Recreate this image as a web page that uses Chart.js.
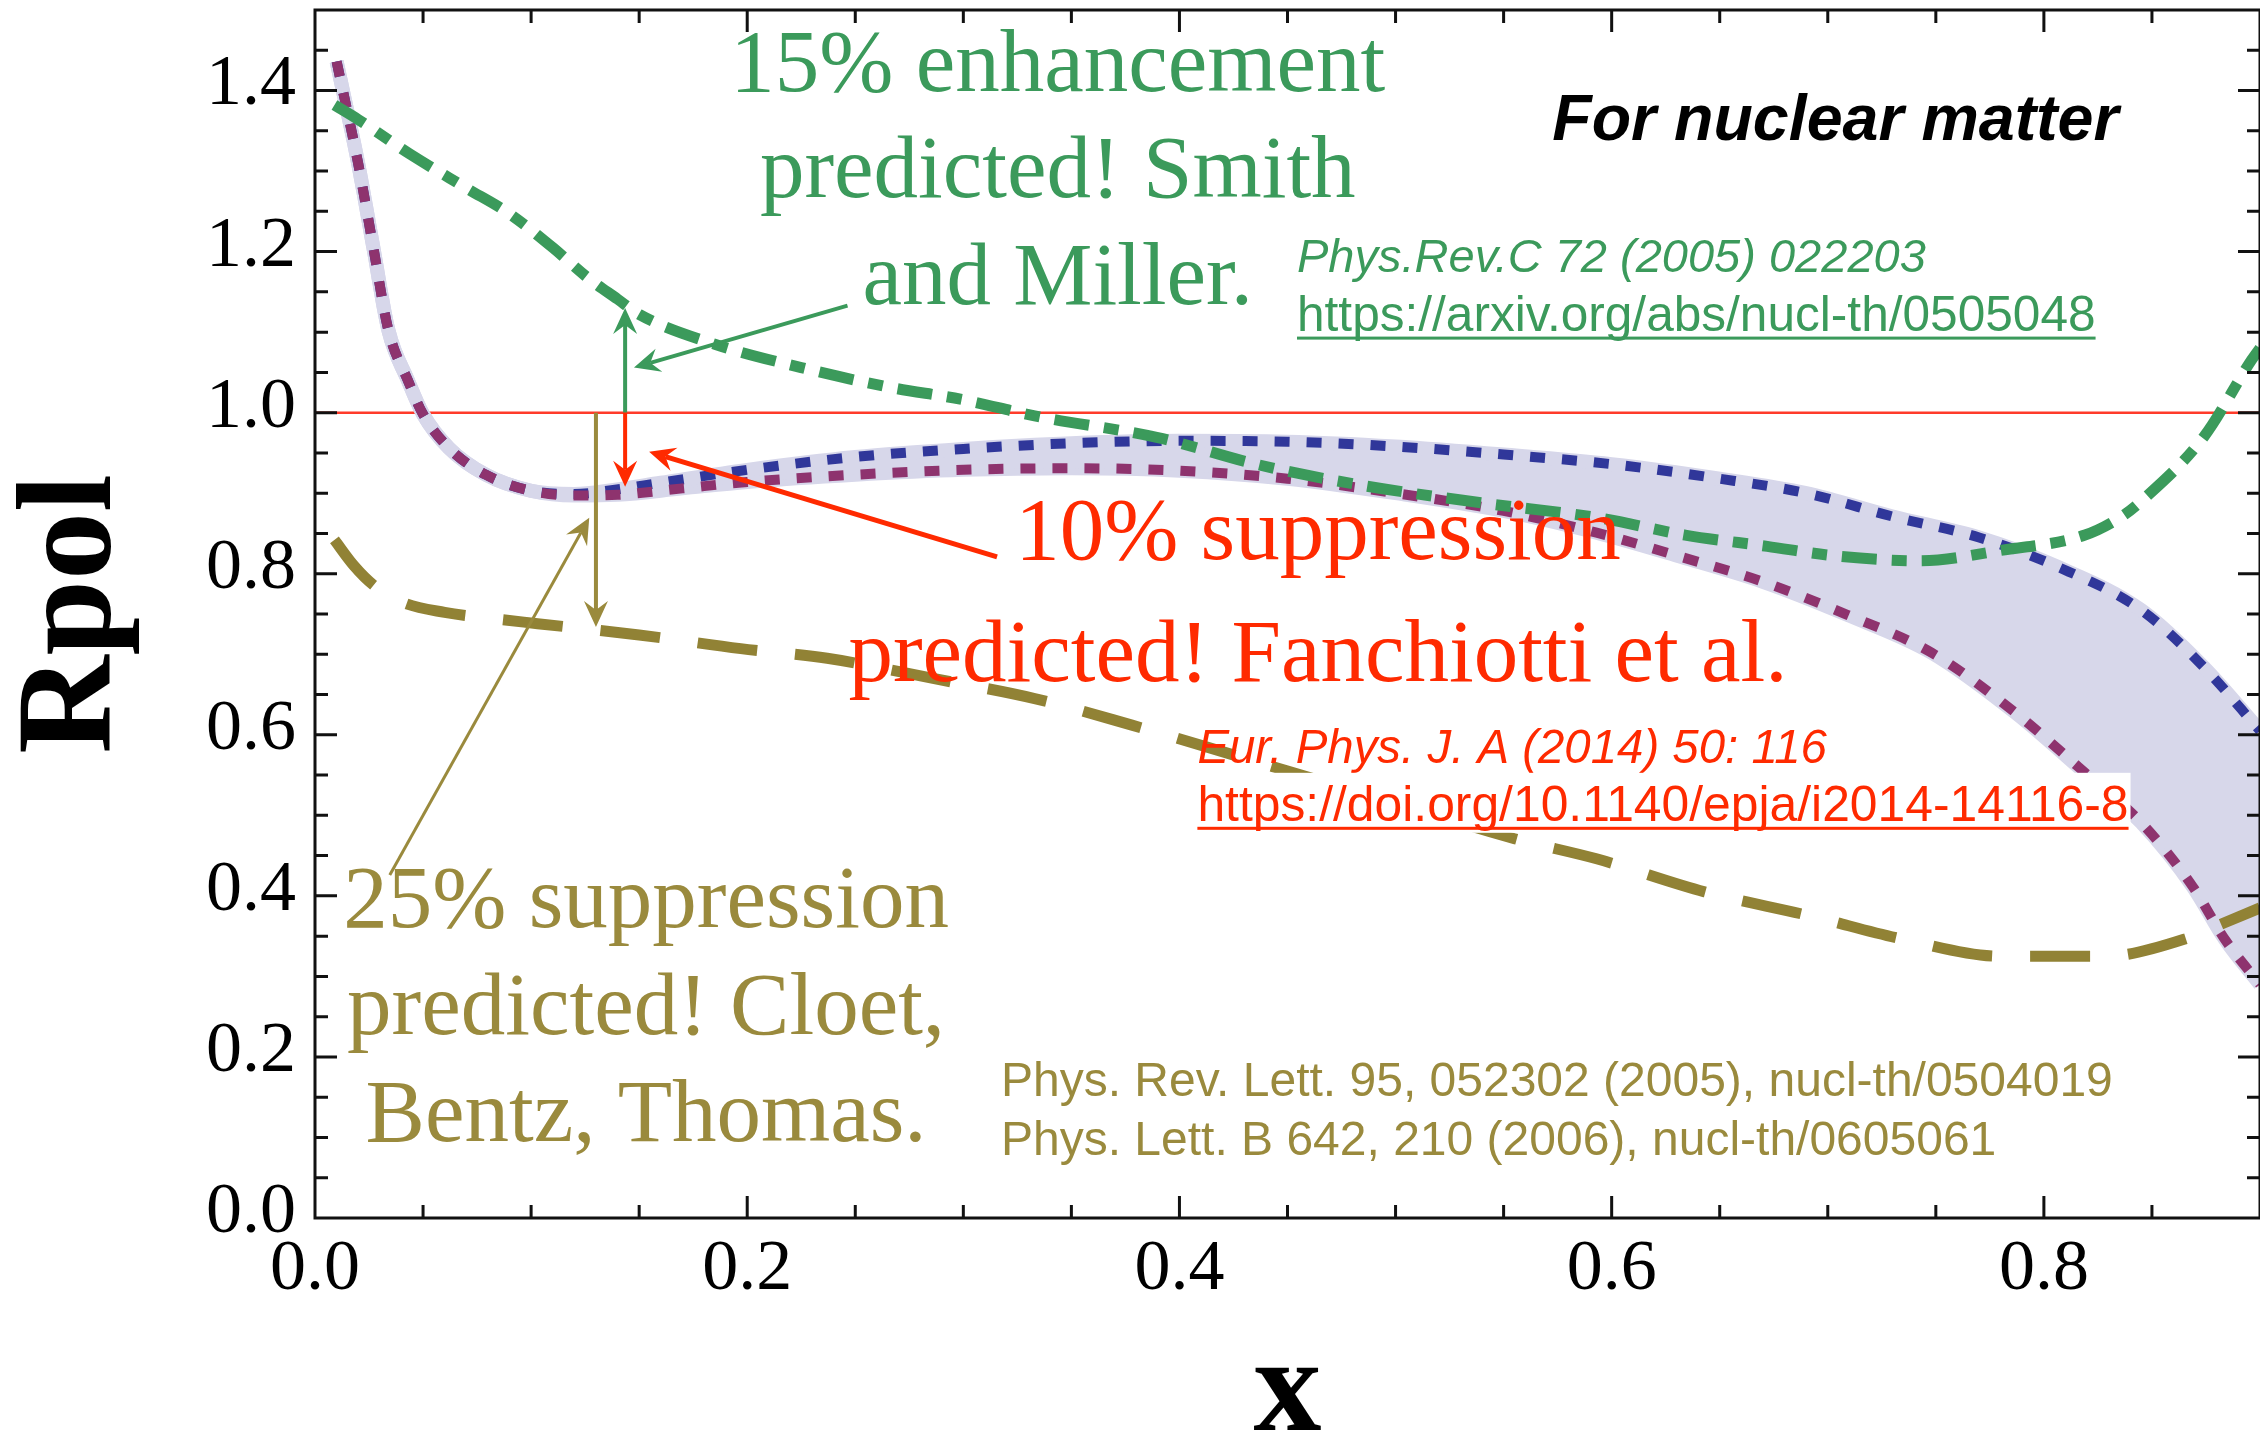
<!DOCTYPE html>
<html>
<head>
<meta charset="utf-8">
<title>Rpol vs x</title>
<script src="https://cdn.jsdelivr.net/npm/chart.js@4.4.1/dist/chart.umd.min.js"></script>
<style>
  html, body { margin: 0; padding: 0; background: #fff; }
  canvas { display: block; }
</style>
</head>
<body>
<canvas id="rpolChart" width="2260" height="1430"></canvas>
<script>
// Smith & Miller (dot-dashed green)
const smithX = [0.009, 0.02, 0.044, 0.07, 0.09, 0.11, 0.126, 0.14, 0.15, 0.185, 0.225, 0.265, 0.3, 0.333, 0.39, 0.437, 0.484, 0.54, 0.595, 0.634, 0.672, 0.704, 0.743, 0.78, 0.819, 0.836, 0.845, 0.874, 0.896, 0.9];
const smithY = [1.382, 1.364, 1.321, 1.279, 1.247, 1.205, 1.168, 1.141, 1.122, 1.085, 1.056, 1.032, 1.016, 0.996, 0.969, 0.935, 0.91, 0.888, 0.869, 0.848, 0.834, 0.822, 0.816, 0.829, 0.848, 0.871, 0.89, 0.97, 1.065, 1.08];

// Fanchiotti et al. band, upper edge (blue) and lower edge (purple)
const fanchHighX = [0.01, 0.02, 0.027, 0.034, 0.043, 0.05, 0.062, 0.079, 0.1, 0.12, 0.138, 0.16, 0.2, 0.25, 0.3, 0.35, 0.4, 0.45, 0.5, 0.55, 0.6, 0.65, 0.69, 0.73, 0.77, 0.806, 0.845, 0.874, 0.9];
const fanchHighY = [1.436, 1.309, 1.205, 1.102, 1.04, 0.998, 0.956, 0.923, 0.903, 0.899, 0.904, 0.913, 0.929, 0.945, 0.955, 0.962, 0.965, 0.964, 0.958, 0.948, 0.936, 0.918, 0.9, 0.871, 0.845, 0.809, 0.755, 0.684, 0.605];
const fanchLowX = [0.01, 0.02, 0.027, 0.034, 0.043, 0.05, 0.062, 0.079, 0.1, 0.12, 0.14, 0.17, 0.2, 0.25, 0.3, 0.35, 0.4, 0.45, 0.5, 0.55, 0.593, 0.632, 0.67, 0.709, 0.748, 0.787, 0.816, 0.845, 0.869, 0.884, 0.9];
const fanchLowY = [1.436, 1.309, 1.205, 1.102, 1.04, 0.998, 0.956, 0.923, 0.903, 0.897, 0.898, 0.906, 0.914, 0.923, 0.929, 0.931, 0.928, 0.918, 0.9, 0.878, 0.851, 0.821, 0.79, 0.749, 0.702, 0.627, 0.56, 0.491, 0.411, 0.345, 0.29];

// Cloet, Bentz, Thomas (long dashes)
const cloetX = [0.009, 0.018, 0.027, 0.04, 0.06, 0.08, 0.103, 0.15, 0.197, 0.237, 0.286, 0.333, 0.378, 0.45, 0.5, 0.555, 0.593, 0.643, 0.692, 0.735, 0.78, 0.828, 0.867, 0.883, 0.9];
const cloetY = [0.842, 0.81, 0.786, 0.765, 0.752, 0.745, 0.738, 0.724, 0.707, 0.695, 0.67, 0.645, 0.612, 0.555, 0.515, 0.471, 0.446, 0.405, 0.375, 0.346, 0.325, 0.325, 0.348, 0.366, 0.385];

// reference line R = 1
const unityX = [0, 0.9];
const unityY = [1, 1];

const xTicks = [0, 0.2, 0.4, 0.6, 0.8];
const yTicks = [0, 0.2, 0.4, 0.6, 0.8, 1.0, 1.2, 1.4];

const GREEN = '#3b9a5b';
const BLUE = '#30379a';
const PURPLE = '#8e336e';
const BAND = '#d7d7ea';
const GOLD_LINE = '#918235';
const GOLD = '#9a8a3d';
const RED = '#ff2a00';

// arrows: [x0, y0] -> [x1, y1] in data units, head at the second point
const arrows = [
  { from: [0.1435, 1.0], to: [0.1435, 1.13], color: GREEN, width: 4 },
  { from: [0.2464, 1.133], to: [0.1476, 1.056], color: GREEN, width: 4 },
  { from: [0.1435, 1.0], to: [0.1435, 0.908], color: RED, width: 4 },
  { from: [0.3156, 0.821], to: [0.1546, 0.9516], color: RED, width: 5 },
  { from: [0.130, 1.0], to: [0.130, 0.734], color: GOLD, width: 4 },
  { from: [0.0346, 0.426], to: [0.1269, 0.8696], color: GOLD, width: 3 }
];

const SERIF = '89px "Liberation Serif"';
const notes = [
  { lines: ['15% enhancement', 'predicted! Smith', 'and Miller.'], x: 0.3437, y: [1.400, 1.268, 1.135], font: SERIF, color: GREEN, align: 'center' },
  { lines: ['10% suppression', 'predicted! Fanchiotti et al.'], x: 0.4641, y: [0.8186, 0.6671], font: SERIF, color: RED, align: 'center' },
  { lines: ['25% suppression', 'predicted! Cloet,', 'Bentz, Thomas.'], x: 0.1532, y: [0.3615, 0.2286, 0.0957], font: SERIF, color: GOLD, align: 'center' },
  { lines: ['For nuclear matter'], x: 0.5725, y: [1.338], font: 'italic bold 64.5px "Liberation Sans"', color: '#000', align: 'left' },
  { lines: ['Phys.Rev.C 72 (2005) 022203'], x: 0.4544, y: [1.1752], font: 'italic 47px "Liberation Sans"', color: GREEN, align: 'left' },
  { lines: ['https://arxiv.org/abs/nucl-th/0505048'], x: 0.4544, y: [1.1019], font: '49.6px "Liberation Sans"', color: GREEN, align: 'left', underline: true },
  { lines: ['Eur. Phys. J. A (2014) 50: 116'], x: 0.4083, y: [0.5652], font: 'italic 47.4px "Liberation Sans"', color: RED, align: 'left' },
  { lines: ['https://doi.org/10.1140/epja/i2014-14116-8'], x: 0.4083, y: [0.4932], font: '49.8px "Liberation Sans"', color: RED, align: 'left', underline: true, box: true },
  { lines: ['Phys. Rev. Lett. 95, 052302 (2005), nucl-th/0504019', 'Phys. Lett. B 642, 210 (2006), nucl-th/0605061'], x: 0.3174, y: [0.1516, 0.0783], font: '48px "Liberation Sans"', color: GOLD, align: 'left' }
];

const toPoints = (xs, ys) => xs.map((x, i) => ({ x, y: ys[i] }));

function curve(label, xs, ys, extra) {
  return Object.assign({
    label,
    data: toPoints(xs, ys),
    pointRadius: 0,
    borderCapStyle: 'butt',
    cubicInterpolationMode: 'monotone',
    fill: false
  }, extra);
}

// inward ticks on all four sides plus the box
const framePlugin = {
  id: 'frame',
  afterDraw(chart) {
    const { ctx, chartArea: a, scales: { x, y } } = chart;
    ctx.save();
    ctx.strokeStyle = '#111';
    ctx.lineWidth = 3;
    ctx.strokeRect(a.left, a.top, a.right - a.left, a.bottom - a.top);
    ctx.beginPath();
    for (let i = 1; i < 18; i++) {
      const v = i * 0.05;
      const len = i % 4 === 0 ? 22 : 13;
      const p = x.getPixelForValue(v);
      ctx.moveTo(p, a.bottom); ctx.lineTo(p, a.bottom - len);
      ctx.moveTo(p, a.top); ctx.lineTo(p, a.top + len);
    }
    for (let i = 1; i < 30; i++) {
      const v = i * 0.05;
      const len = i % 4 === 0 ? 22 : 13;
      const p = y.getPixelForValue(v);
      ctx.moveTo(a.left, p); ctx.lineTo(a.left + len, p);
      ctx.moveTo(a.right, p); ctx.lineTo(a.right - len, p);
    }
    ctx.stroke();
    ctx.restore();
  }
};

function drawArrow(ctx, x1, y1, x2, y2, color, width) {
  const ang = Math.atan2(y2 - y1, x2 - x1);
  const c = Math.cos(ang), s = Math.sin(ang);
  const len = 26, half = 12, notch = 9;
  const bx = x2 - len * c, by = y2 - len * s;
  const nx = x2 - (len - notch) * c, ny = y2 - (len - notch) * s;
  ctx.strokeStyle = color;
  ctx.fillStyle = color;
  ctx.lineWidth = width;
  ctx.beginPath();
  ctx.moveTo(x1, y1);
  ctx.lineTo(nx, ny);
  ctx.stroke();
  ctx.beginPath();
  ctx.moveTo(x2, y2);
  ctx.lineTo(bx - half * s, by + half * c);
  ctx.lineTo(nx, ny);
  ctx.lineTo(bx + half * s, by - half * c);
  ctx.closePath();
  ctx.fill();
}

const notesPlugin = {
  id: 'notes',
  afterDatasetsDraw(chart) {
    const { ctx, scales: { x, y } } = chart;
    ctx.save();
    arrows.forEach(a => {
      drawArrow(ctx,
        x.getPixelForValue(a.from[0]), y.getPixelForValue(a.from[1]),
        x.getPixelForValue(a.to[0]), y.getPixelForValue(a.to[1]),
        a.color, a.width);
    });
    notes.forEach(n => {
      ctx.font = n.font;
      ctx.textAlign = n.align;
      ctx.textBaseline = 'alphabetic';
      const px = x.getPixelForValue(n.x);
      n.lines.forEach((line, i) => {
        const py = y.getPixelForValue(n.y[i]);
        const w = ctx.measureText(line).width;
        const left = n.align === 'center' ? px - w / 2 : px;
        if (n.box) {
          ctx.fillStyle = '#fff';
          ctx.fillRect(left - 2, py - 48, w + 4, 60);
        }
        ctx.fillStyle = n.color;
        ctx.fillText(line, px, py);
        if (n.underline) {
          ctx.fillRect(left, py + 6, w, 3);
        }
      });
    });
    ctx.restore();
  }
};

const tickFont = { family: 'Liberation Serif', size: 72 };

new Chart(document.getElementById('rpolChart'), {
  type: 'line',
  data: {
    datasets: [
      curve('Smith and Miller', smithX, smithY, {
        borderColor: GREEN, borderWidth: 11, borderDash: [35, 15, 15, 15], order: 1
      }),
      curve('Cloet, Bentz, Thomas', cloetX, cloetY, {
        borderColor: GOLD_LINE, borderWidth: 11, borderDash: [60, 38], order: 2
      }),
      curve('Fanchiotti lower', fanchLowX, fanchLowY, {
        borderColor: PURPLE, borderWidth: 10, borderDash: [15, 17], order: 3
      }),
      curve('Fanchiotti upper', fanchHighX, fanchHighY, {
        borderColor: BLUE, borderWidth: 10, borderDash: [15, 17], order: 4
      }),
      curve('band upper', fanchHighX, fanchHighY, {
        borderColor: BAND, borderWidth: 14, backgroundColor: BAND, fill: '+1', order: 5
      }),
      curve('band lower', fanchLowX, fanchLowY, {
        borderColor: BAND, borderWidth: 14, order: 6
      }),
      {
        label: 'R = 1',
        data: toPoints(unityX, unityY),
        borderColor: '#ff3b2a',
        borderWidth: 2.5,
        pointRadius: 0,
        fill: false,
        order: 7
      }
    ]
  },
  options: {
    responsive: false,
    animation: false,
    events: [],
    layout: { padding: { left: 0, top: 10, right: -6, bottom: 0 } },
    scales: {
      x: {
        type: 'linear',
        min: 0,
        max: 0.9,
        grid: { display: false, drawTicks: false },
        border: { display: false },
        afterBuildTicks: s => { s.ticks = xTicks.map(v => ({ value: v })); },
        afterFit: s => { s.height = 212; s.paddingLeft = 0; s.paddingRight = 0; },
        ticks: {
          padding: 9,
          font: tickFont,
          color: '#000',
          maxRotation: 0,
          autoSkip: false,
          callback: v => Number(v).toFixed(1)
        },
        title: {
          display: true,
          text: 'x',
          color: '#000',
          padding: 0,
          font: { family: 'Liberation Serif', size: 136, weight: 'bold', lineHeight: 0.52 }
        }
      },
      y: {
        type: 'linear',
        min: 0,
        max: 1.5,
        grid: { display: false, drawTicks: false },
        border: { display: false },
        afterBuildTicks: s => { s.ticks = yTicks.map(v => ({ value: v })); },
        afterFit: s => { s.width = 315; s.paddingTop = 0; s.paddingBottom = 0; },
        ticks: {
          padding: 19,
          labelOffset: -5,
          font: tickFont,
          color: '#000',
          autoSkip: false,
          callback: v => Number(v).toFixed(1)
        },
        title: {
          display: true,
          text: 'Rpol',
          color: '#000',
          padding: { top: 7, bottom: 0 },
          font: { family: 'Liberation Serif', size: 136, weight: 'bold', lineHeight: 1 }
        }
      }
    },
    plugins: {
      legend: { display: false },
      tooltip: { enabled: false },
      filler: { propagate: false }
    }
  },
  plugins: [framePlugin, notesPlugin]
});
</script>
</body>
</html>
